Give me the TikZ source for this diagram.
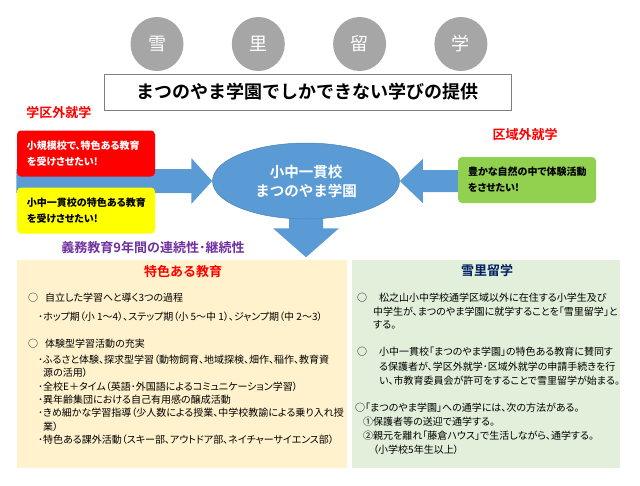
\documentclass[tikz,border=0pt]{standalone}
\usepackage{fontspec}
\setmainfont{Noto Sans CJK JP}[BoldFont={Noto Sans CJK JP Bold}]
\newfontfamily\propfont{Noto Sans CJK JP}[RawFeature=+palt]
\usetikzlibrary{shapes.geometric,positioning,backgrounds}

\definecolor{officeblue}{HTML}{5B9BD5}
\definecolor{circlegray}{HTML}{A6A6A6}
\definecolor{framegray}{HTML}{7F7F7F}
\definecolor{wishred}{HTML}{FF0000}
\definecolor{wishyellow}{HTML}{FFFF00}
\definecolor{wishgreen}{HTML}{92D050}
\definecolor{panelorange}{HTML}{FFF2CC}
\definecolor{panelgreen}{HTML}{E2EFDA}
\definecolor{navy}{HTML}{002060}
\definecolor{violet}{HTML}{7030A0}

\begin{document}
\begin{tikzpicture}
[
  x=1pt, y=-1pt,
  kanjicircle/.style={ellipse, fill=circlegray, text=white, minimum width=53pt, minimum height=54pt, font=\fontsize{18}{18}\selectfont},
  titlebox/.style={rectangle, draw=framegray, line width=0.8pt, minimum width=407pt, minimum height=36pt, font=\fontsize{18}{18}\selectfont\bfseries},
  redlabel/.style={text=wishred, font=\fontsize{13}{13}\selectfont\bfseries},
  wishbox/.style={rectangle, rounded corners=4pt, minimum width=138pt, minimum height=46pt, text width=118pt, align=left, inner sep=0pt, font=\propfont\fontsize{10}{16}\selectfont\bfseries},
  panel/.style={rectangle, inner sep=0pt, anchor=north west},
  heading/.style={font=\fontsize{13}{13}\selectfont\bfseries},
  bodytext/.style={anchor=west, inner sep=0pt, font=\propfont\fontsize{10}{13}\selectfont},
  blockarrow/.style={fill=officeblue}
]
 \useasboundingbox (0,0) rectangle (640,485);

 % top row
 \node[kanjicircle] (c1) at (157,44) {雪};
 \node[kanjicircle,on grid] (c2) [right=101.3pt of c1] {里};
 \node[kanjicircle,on grid] (c3) [right=101.3pt of c2] {留};
 \node[kanjicircle,on grid] (c4) [right=101.3pt of c3] {学};
 \node[titlebox] (title) at (307.5,92) {まつのやま学園でしかできない学びの提供};

 % wishes and school
 \node[redlabel] (outer) at (59,113) {学区外就学};
 \node[redlabel] (region) at (525,135) {区域外就学};
 \node[wishbox, fill=wishred, text=white] (small) at (86,153.5) {小規模校で、特色ある教育\\を受けさせたい!};
 \node[wishbox, fill=wishyellow] (unified) at (86,210.5) {小中一貫校の特色ある教育\\を受けさせたい!};
 \node[wishbox, fill=wishgreen] (nature) at (527,180) {豊かな自然の中で体験活動\\をさせたい!};
 \node[ellipse, fill=officeblue, draw=officeblue!85!black, line width=0.5pt, minimum width=187pt, minimum height=76pt, text=white, align=center, font=\fontsize{14.5}{19}\selectfont\bfseries] (school) at (306,181) {小中一貫校\\まつのやま学園};
 \node[text=violet, font=\fontsize{13}{13}\selectfont\bfseries] (nine) at (153,248) {義務教育9年間の連続性･継続性};

 \begin{scope}[on background layer]
  \fill[blockarrow] (school.west) -- ++(-21,-23) -- ++(0,11) -- ++(-175,0) -- ++(0,24) -- ++(175,0) -- ++(0,11) -- cycle;
  \fill[blockarrow] (school.east) -- ++(23,-22) -- ++(0,11) -- ++(40,0) -- ++(0,22) -- ++(-40,0) -- ++(0,11) -- cycle;
  \path (school.south) ++(0,38) coordinate (downtip);
  \fill[blockarrow] (downtip) -- ++(-33,-29) -- ++(16,0) -- ++(0,-30) -- ++(34,0) -- ++(0,30) -- ++(16,0) -- cycle;
 \end{scope}

 % panels
 \node[panel, fill=panelorange, minimum width=330pt, minimum height=208pt] (edupanel) at (17,260) {};
 \node[panel, fill=panelgreen, minimum width=268pt, minimum height=208pt] (snowpanel) at (352,260) {};
 \node[heading, text=wishred] (eduhead) at (183,272) {特色ある教育};
 \node[heading, text=navy] (snowhead) at (487,271) {雪里留学};

 \foreach \x/\y/\t [count=\i] in {
   28/298/{○\hspace{7pt}自立した学習へと導く3つの過程},
   38/317/{･ホップ期（小 1～4）、ステップ期（小 5～中 1）、ジャンプ期（中 2～3）},
   28/344/{○\hspace{7pt}体験型学習活動の充実},
   38/360/{･ふるさと体験、探求型学習（動物飼育、地域探検、畑作、稲作、教育資},
   43/373/{源の活用）},
   38/387/{･全校E＋タイム（英語･外国語によるコミュニケーション学習）},
   38/400/{･異年齢集団における自己有用感の醸成活動},
   38/413/{･きめ細かな学習指導（少人数による授業、中学校教諭による乗り入れ授},
   43/427/{業）},
   38/440/{･特色ある課外活動（スキー部、アウトドア部、ネイチャーサイエンス部）}
 } \node[bodytext] (edu\i) at (\x,\y) {\t};

 \foreach \x/\y/\t [count=\i] in {
   357/298/{○\hspace{12pt}松之山小中学校通学区域以外に在住する小学生及び},
   373/312/{中学生が、まつのやま学園に就学することを「雪里留学」と},
   373/325/{する。},
   357/352/{○\hspace{12pt}小中一貫校「まつのやま学園」の特色ある教育に賛同す},
   379/367/{る保護者が、学区外就学･区域外就学の申請手続きを行},
   379/381/{い、市教育委員会が許可をすることで雪里留学が始まる。},
   355/408/{○「まつのやま学園」への通学には、次の方法がある。},
   363/422/{①保護者等の送迎で通学する。},
   363/436/{②親元を離れ「藤倉ハウス」で生活しながら、通学する。},
   373/450/{（小学校5年生以上）}
 } \node[bodytext] (snow\i) at (\x,\y) {\t};
\end{tikzpicture}
\end{document}
